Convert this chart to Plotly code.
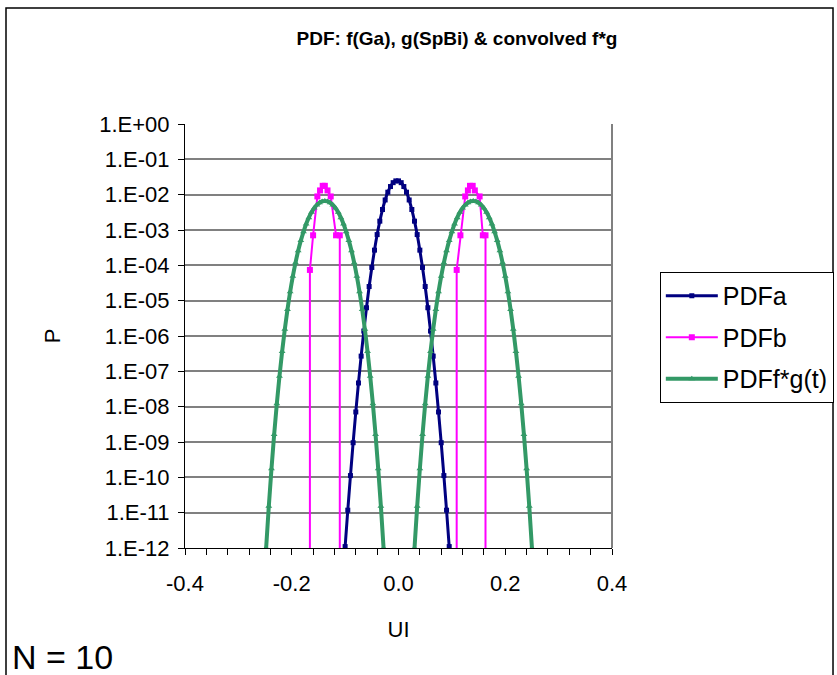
import plotly.graph_objects as go

FONT = "Liberation Sans, Arial, sans-serif"

# ---- data (log10 of P) ----
X_A = [-0.105, -0.100, -0.095, -0.090, -0.085, -0.080, -0.075, -0.070, -0.065, -0.060,
       -0.055, -0.050, -0.045, -0.040, -0.035, -0.030, -0.025, -0.020, -0.015, -0.010,
       -0.005, 0.000, 0.005, 0.010, 0.015, 0.020, 0.025, 0.030, 0.035, 0.040,
       0.045, 0.050, 0.055, 0.060, 0.065, 0.070, 0.075, 0.080, 0.085, 0.090,
       0.095, 0.100]
LOG_A = [-13.05, -11.96, -10.93, -9.95, -9.02, -8.15, -7.33, -6.57, -5.86, -5.20,
         -4.60, -4.06, -3.57, -3.13, -2.75, -2.42, -2.15, -1.93, -1.77, -1.66,
         -1.61, -1.61, -1.66, -1.77, -1.93, -2.15, -2.42, -2.75, -3.13, -3.57,
         -4.06, -4.60, -5.20, -5.86, -6.57, -7.33, -8.15, -9.02, -9.95, -10.93,
         -11.96, -13.05]

X_B = [-0.166, -0.166, -0.160, -0.152, -0.147, -0.142, -0.138, -0.133, -0.127, -0.117, -0.110, -0.110,
       0.109, 0.109, 0.116, 0.125, 0.130, 0.134, 0.139, 0.143, 0.152, 0.158, 0.163, 0.163]
LOG_B = [-15, -4.13, -3.15, -2.05, -1.88, -1.75, -1.75, -1.88, -2.05, -3.15, -3.15, -15,
         -15, -4.13, -3.15, -2.05, -1.88, -1.75, -1.75, -1.88, -2.05, -3.15, -3.15, -15]

X_FG = [-0.258, -0.253, -0.248, -0.243, -0.238, -0.233, -0.228, -0.223, -0.218, -0.213,
        -0.208, -0.203, -0.198, -0.193, -0.188, -0.183, -0.178, -0.173, -0.168, -0.163,
        -0.158, -0.153, -0.148, -0.143, -0.138, -0.133, -0.128, -0.123, -0.118, -0.113,
        -0.108, -0.103, -0.098, -0.093, -0.088, -0.083, -0.078, -0.073, -0.068, -0.063,
        -0.058, -0.053, -0.048, -0.043, -0.038, -0.033, -0.028, -0.023, -0.018,
        0.020, 0.025, 0.030, 0.035, 0.040, 0.045, 0.050, 0.055, 0.060, 0.065,
        0.070, 0.075, 0.080, 0.085, 0.090, 0.095, 0.100, 0.105, 0.110, 0.115,
        0.120, 0.125, 0.130, 0.135, 0.140, 0.145, 0.150, 0.155, 0.160, 0.165,
        0.170, 0.175, 0.180, 0.185, 0.190, 0.195, 0.200, 0.205, 0.210, 0.215,
        0.220, 0.225, 0.230, 0.235, 0.240, 0.245, 0.250, 0.255, 0.260]
LOG_FG = [-14.72, -13.30, -12.00, -10.82, -9.76, -8.79, -7.92, -7.14, -6.44, -5.81,
          -5.25, -4.75, -4.31, -3.93, -3.59, -3.30, -3.05, -2.83, -2.65, -2.50,
          -2.38, -2.29, -2.23, -2.19, -2.18, -2.19, -2.23, -2.29, -2.38, -2.50,
          -2.65, -2.83, -3.05, -3.30, -3.59, -3.93, -4.31, -4.75, -5.25, -5.81,
          -6.44, -7.14, -7.92, -8.79, -9.76, -10.82, -12.00, -13.30, -14.72,
          -14.72, -13.30, -12.00, -10.82, -9.76, -8.79, -7.92, -7.14, -6.44, -5.81,
          -5.25, -4.75, -4.31, -3.93, -3.59, -3.30, -3.05, -2.83, -2.65, -2.50,
          -2.38, -2.29, -2.23, -2.19, -2.18, -2.19, -2.23, -2.29, -2.38, -2.50,
          -2.65, -2.83, -3.05, -3.30, -3.59, -3.93, -4.31, -4.75, -5.25, -5.81,
          -6.44, -7.14, -7.92, -8.79, -9.76, -10.82, -12.00, -13.30, -14.72]

SERIES_NAMES = ["PDFa", "PDFb", "PDFf*g(t)"]
Y_TICK_EXP = [0, -1, -2, -3, -4, -5, -6, -7, -8, -9, -10, -11, -12]
Y_TICK_LABELS = ["1.E+00", "1.E-01", "1.E-02", "1.E-03", "1.E-04", "1.E-05", "1.E-06",
                 "1.E-07", "1.E-08", "1.E-09", "1.E-10", "1.E-11", "1.E-12"]
X_TICKS = [-0.4, -0.2, 0.0, 0.2, 0.4]
X_TICK_LABELS = ["-0.4", "-0.2", "0.0", "0.2", "0.4"]

P_A = [10 ** v for v in LOG_A]
P_B = [10 ** v for v in LOG_B]
P_FG = [10 ** v for v in LOG_FG]

fig = go.Figure()
fig.add_trace(go.Scatter(x=X_A, y=P_A, name=SERIES_NAMES[0], mode="lines+markers",
                         line=dict(color="#000080", width=3, shape="spline"),
                         marker=dict(symbol="square", size=5, color="#000080"),
                         legendgroup="a"))
fig.add_trace(go.Scatter(x=X_B, y=P_B, name=SERIES_NAMES[1], mode="lines+markers",
                         line=dict(color="#FF00FF", width=2),
                         marker=dict(symbol="square", size=6, color="#FF00FF"),
                         legendgroup="b"))
fig.add_trace(go.Scatter(x=X_FG, y=P_FG, name=SERIES_NAMES[2], mode="lines+markers",
                         line=dict(color="#339966", width=4, shape="spline"),
                         marker=dict(symbol="triangle-up", size=6, color="#339966"),
                         legendgroup="c"))

# plot-area frame (gray right edge) and outer chart border
fig.add_shape(type="line", xref="paper", yref="paper", x0=1, x1=1, y0=0, y1=1,
              line=dict(color="#808080", width=2))
fig.add_shape(type="rect", xref="paper", yref="paper",
              x0=-0.4192, x1=1.5176, y0=-0.33, y1=1.2736,
              line=dict(color="#000000", width=1.5))

fig.add_annotation(text="N = 10", xref="paper", yref="paper", x=-0.4098, y=-0.257,
                   xanchor="left", yanchor="middle", showarrow=False,
                   font=dict(family=FONT, size=34, color="black"))

fig.update_layout(
    width=837, height=675,
    margin=dict(l=185, r=225, t=124, b=127, autoexpand=False),
    paper_bgcolor="white", plot_bgcolor="white",
    font=dict(family=FONT, size=22, color="black"),
    title=dict(text="<b>PDF: f(Ga), g(SpBi) & convolved f*g</b>",
               x=0.546, xref="container", xanchor="center",
               y=1 - 38 / 675, yref="container", yanchor="middle",
               font=dict(family=FONT, size=19, color="black")),
    showlegend=True,
    legend=dict(x=1.112, y=0.651, xanchor="left", yanchor="top",
                bordercolor="black", borderwidth=1, bgcolor="white",
                font=dict(family=FONT, size=25, color="black"),
                traceorder="grouped", tracegroupgap=6,
                itemwidth=52),
    xaxis=dict(range=[-0.4, 0.4], tickvals=X_TICKS, ticktext=X_TICK_LABELS,
               showgrid=False, zeroline=False,
               showline=True, linecolor="black", linewidth=1,
               ticks="outside", ticklen=6, tickcolor="black",
               minor=dict(dtick=0.04, ticks="outside", ticklen=6, tickcolor="black", showgrid=False),
               ticklabelstandoff=10,
               title=dict(text="UI", standoff=26, font=dict(size=22))),
    yaxis=dict(type="log", range=[-12, 0],
               tickvals=[10 ** e for e in Y_TICK_EXP], ticktext=Y_TICK_LABELS,
               showgrid=True, gridcolor="#808080", gridwidth=1.5,
               zeroline=False, showline=True, linecolor="black", linewidth=1,
               ticks="outside", ticklen=6, tickcolor="black",
               ticklabelstandoff=4,
               title=dict(text="P", standoff=32, font=dict(size=22))),
)

fig.write_html("out.html")
